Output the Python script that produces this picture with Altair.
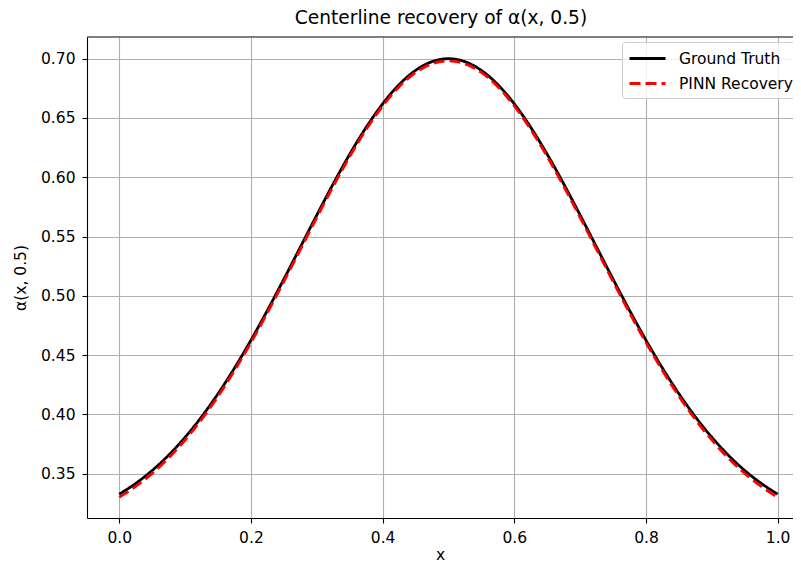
import altair as alt
import pandas as pd

x_vals = [0.0, 0.025, 0.05, 0.075, 0.1, 0.125, 0.15, 0.175, 0.2, 0.225, 0.25,
          0.275, 0.3, 0.325, 0.35, 0.375, 0.4, 0.425, 0.45, 0.475, 0.5,
          0.525, 0.55, 0.575, 0.6, 0.625, 0.65, 0.675, 0.7, 0.725, 0.75,
          0.775, 0.8, 0.825, 0.85, 0.875, 0.9, 0.925, 0.95, 0.975, 1.0]

ground_truth = [0.3328, 0.3419, 0.3528, 0.3657, 0.3808, 0.3980, 0.4175, 0.4391,
                0.4626, 0.4878, 0.5141, 0.5411, 0.5681, 0.5945, 0.6194, 0.6421,
                0.6619, 0.6781, 0.6901, 0.6975, 0.7000,
                0.6975, 0.6901, 0.6781, 0.6619, 0.6421, 0.6194, 0.5945, 0.5681,
                0.5411, 0.5141, 0.4878, 0.4626, 0.4391, 0.4175, 0.3980, 0.3808,
                0.3657, 0.3528, 0.3419, 0.3328]

pinn_recovery = [0.3302, 0.3394, 0.3503, 0.3633, 0.3785, 0.3958, 0.4154, 0.4371,
                 0.4606, 0.4858, 0.5121, 0.5391, 0.5661, 0.5925, 0.6175, 0.6403,
                 0.6601, 0.6764, 0.6884, 0.6957, 0.6982,
                 0.6957, 0.6884, 0.6764, 0.6601, 0.6403, 0.6175, 0.5925, 0.5661,
                 0.5391, 0.5121, 0.4858, 0.4606, 0.4371, 0.4154, 0.3958, 0.3785,
                 0.3633, 0.3503, 0.3394, 0.3302]

series_names = ["Ground Truth", "PINN Recovery"]
x_ticks = [0.0, 0.2, 0.4, 0.6, 0.8, 1.0]
y_ticks = [0.35, 0.40, 0.45, 0.50, 0.55, 0.60, 0.65, 0.70]

df = pd.DataFrame({
    "x": x_vals + x_vals,
    "alpha": ground_truth + pinn_recovery,
    "series": [series_names[0]] * len(x_vals) + [series_names[1]] * len(x_vals),
})

W, H = 706, 481
FONT = "DejaVu Sans"
FS = 15.5

xscale = alt.Scale(domain=[-0.049, 1.0233], nice=False, zero=False)
yscale = alt.Scale(domain=[0.3127, 0.7183], nice=False, zero=False)

legend = alt.Legend(
    title=None, orient="none", legendX=535, legendY=5,
    symbolType="M-1,0H3", symbolSize=324, symbolStrokeWidth=2.8,
    labelOffset=30, padding=6, rowPadding=6,
    fillColor="rgba(255,255,255,0.8)", strokeColor="#cccccc", cornerRadius=3,
    labelFont=FONT, labelFontSize=FS, labelColor="black",
)

lines = alt.Chart(df).mark_line(strokeWidth=2.8, clip=True, interpolate="monotone").encode(
    x=alt.X("x:Q", scale=xscale,
            axis=alt.Axis(values=x_ticks, format=".1f", title="x", labelPadding=7,
                          titleBaseline="alphabetic", titleY=41)),
    y=alt.Y("alpha:Q", scale=yscale,
            axis=alt.Axis(values=y_ticks, format=".2f", title="α(x, 0.5)", labelPadding=7, titlePadding=12)),
    color=alt.Color("series:N", scale=alt.Scale(domain=series_names, range=["#000000", "#ff0000"]),
                    legend=legend),
    strokeDash=alt.StrokeDash("series:N", scale=alt.Scale(domain=series_names, range=[[1, 0], [11, 5]]),
                              legend=legend),
)

top_spine = alt.Chart(pd.DataFrame({"a": [0]})).mark_rule(color="black", strokeWidth=1.1).encode(
    x=alt.value(0), x2=alt.value(W), y=alt.value(0)
)

chart = alt.layer(lines, top_spine).properties(
    width=W, height=H,
    title=alt.TitleParams("Centerline recovery of α(x, 0.5)", dx=1),
    autosize=alt.AutoSizeParams(type="none"),
    padding={"left": 79, "top": 29, "right": 0, "bottom": 44},
).configure_view(stroke=None).configure_axis(
    domainColor="black", domainWidth=1.1, tickColor="black", tickSize=5, tickWidth=1.1,
    labelFont=FONT, labelFontSize=FS, labelColor="black",
    titleFont=FONT, titleFontSize=FS, titleFontWeight="normal", titleColor="black",
    gridColor="#b0b0b0", gridWidth=1.1,
).configure_title(
    font=FONT, fontSize=18.6, fontWeight="normal", color="black", offset=9, anchor="middle",
)

chart.save("out.html", embed_options={"renderer": "svg", "actions": False})
